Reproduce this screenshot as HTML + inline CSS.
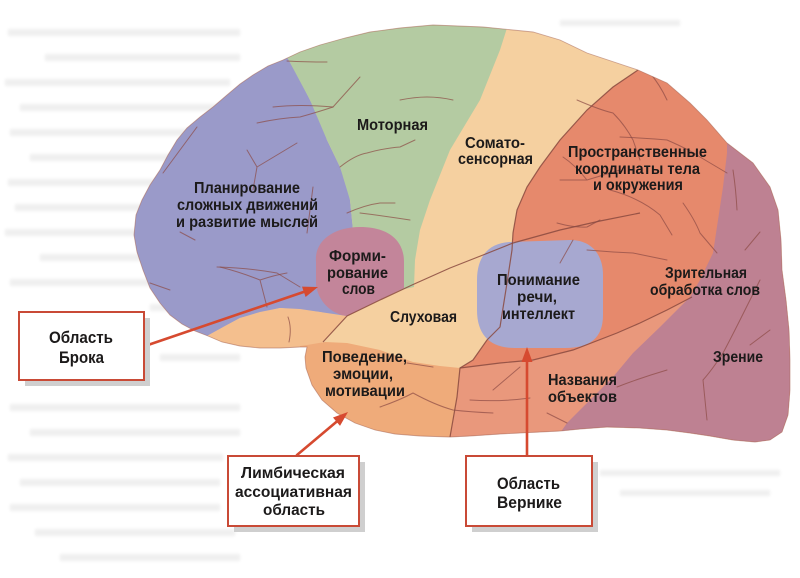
<!DOCTYPE html>
<html>
<head>
<meta charset="utf-8">
<style>
html,body{margin:0;padding:0;background:#fff;}
svg{display:block;}
text{font-family:"Liberation Sans","DejaVu Sans",sans-serif;font-weight:bold;fill:#1c1a1a;}
.v{fill:none;stroke:#8c4a44;stroke-width:1;opacity:.7;stroke-linecap:round;stroke-linejoin:round;}
.ln{fill:none;stroke:#8a4a40;stroke-width:1.2;opacity:.85;}
</style>
</head>
<body>
<svg width="800" height="578" viewBox="0 0 800 578" xmlns="http://www.w3.org/2000/svg">
<defs>
  <clipPath id="brain">
    <path id="sil" d="M400 28 L433 25 L483 27 L533 32 L560 40 L587 53 L617 63 L638 70 L667 83 L690 103 L707 120 L727 143 L753 163 L770 187 L778 210 L781 240 L782 270 L786 300 L789 330 L790 360 L790 390 L788 415 L782 432 L770 440 L755 442 L733 440 L710 436 L690 433 L667 430 L640 428 L607 427 L580 429 L560 431 L540 432 L500 434 L470 436 L450 437 L420 436 L395 434 L375 430 L355 423 L337 413 L322 400 L312 385 L306 368 L305 357 L307 347 L300 347 L280 348 L260 348 L240 346 L222 342 L208 336 L195 331 L182 324 L170 315 L160 303 L150 288 L143 270 L137 252 L134 235 L136 215 L142 200 L150 185 L160 170 L168 155 L177 140 L187 128 L200 117 L213 107 L227 95 L240 84 L253 75 L268 66 L283 60 L300 52 L320 45 L345 38 L370 32 Z"/>
  </clipPath>
  <filter id="bl" x="-5%" y="-50%" width="110%" height="200%"><feGaussianBlur stdDeviation="1.5"/></filter>
</defs>

<!-- faint ghost text lines -->
<g fill="#efefef" filter="url(#bl)">
  <rect x="8" y="29" width="232" height="7"/>
  <rect x="45" y="54" width="195" height="7"/>
  <rect x="5" y="79" width="225" height="7"/>
  <rect x="20" y="104" width="215" height="7"/>
  <rect x="10" y="129" width="230" height="7"/>
  <rect x="30" y="154" width="170" height="7"/>
  <rect x="8" y="179" width="200" height="7"/>
  <rect x="15" y="204" width="180" height="7"/>
  <rect x="5" y="229" width="150" height="7"/>
  <rect x="40" y="254" width="120" height="7"/>
  <rect x="10" y="279" width="140" height="7"/>
  <rect x="150" y="304" width="90" height="7"/>
  <rect x="160" y="354" width="80" height="7"/>
  <rect x="10" y="404" width="230" height="7"/>
  <rect x="30" y="429" width="210" height="7"/>
  <rect x="8" y="454" width="215" height="7"/>
  <rect x="20" y="479" width="200" height="7"/>
  <rect x="10" y="504" width="210" height="7"/>
  <rect x="35" y="529" width="200" height="7"/>
  <rect x="60" y="554" width="180" height="7"/>
  <rect x="600" y="470" width="180" height="6"/>
  <rect x="620" y="490" width="150" height="6"/>
  <rect x="560" y="20" width="120" height="6"/>
</g>

<!-- brain regions -->
<g clip-path="url(#brain)">
  <rect x="0" y="0" width="800" height="578" fill="#f5d0a0"/>
  <polygon fill="#9a9ac9" points="0,0 284,0 287,57 300,80 310,100 320,120 327,140 340,167 347,185 350,200 353,230 355,300 345,318 320,312 280,308 240,318 207,336 0,340"/>
  <polygon fill="#b4cba2" points="284,0 515,0 507,28 500,50 480,100 465,125 450,150 440,175 430,200 420,230 415,260 414,287 355,300 353,230 350,200 340,167 327,140 310,100 287,57"/>
  <polygon fill="#f4bf8e" points="200,350 207,336 225,326 240,318 260,312 280,308 300,309 320,312 347,316 323,342 307,350"/>
  <polygon fill="#efab7a" points="290,470 300,346 307,345 325,342 347,343 380,350 413,362 440,366 460,368 457,397 450,437 450,470"/>
  <polygon fill="#e6896c" points="638,70 660,0 800,0 800,470 450,470 450,437 457,397 460,368 473,360 487,340 500,327 507,283 512,250 513,233 517,210 527,187 540,167 560,140 587,110 613,87"/>
  <polygon fill="#e9987c" points="460,368 500,363 533,360 573,350 617,333 640,323 667,310 692,297 800,297 800,470 450,470 450,437 457,397"/>
  <polygon fill="#be8192" points="727,140 800,120 800,470 555,470 560,433 567,423 587,403 613,377 633,353 660,327 690,297 700,280 713,253 718,220 723,187 727,153"/>
  <path fill="#c3859a" d="M316 262 C314 240 335 227 360 227 C388 227 404 240 404 262 L404 288 L347 316 C330 314 318 300 316 285 Z"/>
  <path fill="#a7a8d0" d="M510 242 L570 240 C592 240 603 255 603 275 L603 315 C603 338 590 348 565 348 L515 348 C490 348 477 335 477 310 L477 280 C477 255 490 243 510 242 Z"/>

  <path class="ln" d="M323 342 L347 316 L380 300 L412 285 L450 268 L483 255 L513 243 L560 230 L600 221 L640 213"/>
  <path class="ln" d="M638 70 L613 87 L587 110 L560 140 L540 167 L527 187 L517 210 L513 233 L512 250 L507 283 L500 327 L487 340 L473 360 L460 368 L457 397 L450 437"/>
  <path class="ln" d="M460 368 L500 363 L533 360 L573 350 L617 333 L640 323 L667 310 L692 297" opacity=".6"/>

  <path class="v" d="M257 123 Q280 118 300 117 Q318 112 333 107 L360 77"/>
  <path class="v" d="M273 107 Q300 104 333 107"/>
  <path class="v" d="M287 61 Q305 62 327 62"/>
  <path class="v" d="M247 150 L257 167 L297 143 M257 167 L253 190"/>
  <path class="v" d="M163 173 Q180 150 197 127"/>
  <path class="v" d="M217 267 Q250 268 277 273 L300 287"/>
  <path class="v" d="M220 267 Q240 272 260 280 L267 307 M260 280 Q275 275 287 273"/>
  <path class="v" d="M150 283 L170 290 M180 232 L195 240"/>
  <path class="v" d="M313 187 L307 233"/>
  <path class="v" d="M288 317 Q292 328 289 342"/>
  <path class="v" d="M340 167 Q355 155 367 153 Q385 148 400 147 L415 140"/>
  <path class="v" d="M347 213 Q365 205 380 203 L395 203"/>
  <path class="v" d="M400 100 Q415 97 427 97 Q440 97 453 100"/>
  <path class="v" d="M360 213 Q385 216 410 220"/>
  <path class="v" d="M577 100 Q600 110 613 113 Q625 125 633 140 L640 160"/>
  <path class="v" d="M650 73 Q660 85 667 100"/>
  <path class="v" d="M620 137 Q645 138 667 140 Q690 150 700 157 L727 173"/>
  <path class="v" d="M563 157 Q575 165 587 180 L620 170 M560 180 L587 180"/>
  <path class="v" d="M683 203 Q695 220 700 233 L717 253"/>
  <path class="v" d="M557 223 Q575 228 587 227 L600 220"/>
  <path class="v" d="M573 240 L560 263"/>
  <path class="v" d="M587 250 Q610 252 633 253 L667 260"/>
  <path class="v" d="M610 190 Q640 198 660 215 L672 235"/>
  <path class="v" d="M733 170 Q736 190 737 210"/>
  <path class="v" d="M760 280 Q750 300 740 320 Q730 340 723 353 Q712 370 703 380 L707 420"/>
  <path class="v" d="M745 250 L760 232 M770 330 L750 345"/>
  <path class="v" d="M493 390 L520 367"/>
  <path class="v" d="M547 413 L567 423"/>
  <path class="v" d="M617 387 Q640 378 667 370"/>
  <path class="v" d="M470 400 Q500 402 530 398"/>
  <path class="v" d="M380 407 Q400 400 413 393 Q435 405 453 410 Q470 412 493 413"/>
  <path class="v" d="M407 363 Q420 365 433 367"/>
</g>
<use href="#sil" fill="none" stroke="#a8685a" stroke-width="0.9" opacity="0.55"/>

<g font-size="15.5">
  <text x="357" y="130" textLength="71" lengthAdjust="spacingAndGlyphs">Моторная</text>
  <text x="194" y="193" textLength="106" lengthAdjust="spacingAndGlyphs">Планирование</text>
  <text x="177" y="210" textLength="141" lengthAdjust="spacingAndGlyphs">сложных движений</text>
  <text x="176" y="227" textLength="142" lengthAdjust="spacingAndGlyphs">и развитие мыслей</text>
  <text x="329" y="261" textLength="57" lengthAdjust="spacingAndGlyphs">Форми-</text>
  <text x="327" y="278" textLength="61" lengthAdjust="spacingAndGlyphs">рование</text>
  <text x="342" y="294" textLength="33" lengthAdjust="spacingAndGlyphs">слов</text>
  <text x="465" y="148" textLength="60" lengthAdjust="spacingAndGlyphs">Сомато-</text>
  <text x="458" y="164" textLength="75" lengthAdjust="spacingAndGlyphs">сенсорная</text>
  <text x="568" y="157" textLength="139" lengthAdjust="spacingAndGlyphs">Пространственные</text>
  <text x="575" y="174" textLength="125" lengthAdjust="spacingAndGlyphs">координаты тела</text>
  <text x="593" y="190" textLength="90" lengthAdjust="spacingAndGlyphs">и окружения</text>
  <text x="497" y="285" textLength="83" lengthAdjust="spacingAndGlyphs">Понимание</text>
  <text x="517" y="302" textLength="40" lengthAdjust="spacingAndGlyphs">речи,</text>
  <text x="502" y="319" textLength="73" lengthAdjust="spacingAndGlyphs">интеллект</text>
  <text x="390" y="322" textLength="67" lengthAdjust="spacingAndGlyphs">Слуховая</text>
  <text x="322" y="362" textLength="85" lengthAdjust="spacingAndGlyphs">Поведение,</text>
  <text x="333" y="379" textLength="60" lengthAdjust="spacingAndGlyphs">эмоции,</text>
  <text x="325" y="396" textLength="80" lengthAdjust="spacingAndGlyphs">мотивации</text>
  <text x="665" y="278" textLength="82" lengthAdjust="spacingAndGlyphs">Зрительная</text>
  <text x="650" y="295" textLength="110" lengthAdjust="spacingAndGlyphs">обработка слов</text>
  <text x="713" y="362" textLength="50" lengthAdjust="spacingAndGlyphs">Зрение</text>
  <text x="548" y="385" textLength="69" lengthAdjust="spacingAndGlyphs">Названия</text>
  <text x="548" y="402" textLength="69" lengthAdjust="spacingAndGlyphs">объектов</text>
</g>

<g stroke="#d64a30" stroke-width="2.6" fill="none" stroke-linecap="round">
  <line x1="145" y1="346" x2="305" y2="291.5"/>
  <line x1="297" y1="455" x2="338" y2="420.5"/>
  <line x1="527" y1="455" x2="527" y2="360"/>
</g>
<g fill="#d64a30">
  <polygon points="318,287 305.6,297 302,286.6"/>
  <polygon points="348,412 340,425.9 333,417.5"/>
  <polygon points="527,347 521.5,362 532.5,362"/>
</g>

<g fill="#cfcfcf">
  <rect x="25" y="318" width="125" height="68"/>
  <rect x="234" y="462" width="131" height="70"/>
  <rect x="472" y="462" width="126" height="70"/>
</g>
<g fill="#fff" stroke="#c94a36" stroke-width="2">
  <rect x="19" y="312" width="125" height="68"/>
  <rect x="228" y="456" width="131" height="70"/>
  <rect x="466" y="456" width="126" height="70"/>
</g>
<g font-size="17">
  <text x="49" y="343" textLength="64" lengthAdjust="spacingAndGlyphs">Область</text>
  <text x="59" y="363" textLength="45" lengthAdjust="spacingAndGlyphs">Брока</text>
  <text x="497" y="489" textLength="63" lengthAdjust="spacingAndGlyphs">Область</text>
  <text x="497" y="508" textLength="65" lengthAdjust="spacingAndGlyphs">Вернике</text>
</g>
<g font-size="16">
  <text x="241" y="478" textLength="104" lengthAdjust="spacingAndGlyphs">Лимбическая</text>
  <text x="235" y="497" textLength="117" lengthAdjust="spacingAndGlyphs">ассоциативная</text>
  <text x="263" y="515" textLength="62" lengthAdjust="spacingAndGlyphs">область</text>
</g>
</svg>
</body>
</html>
